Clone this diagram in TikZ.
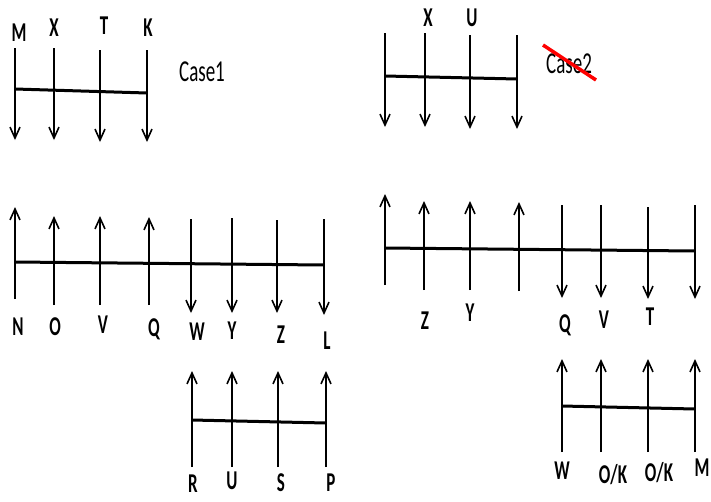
\documentclass[tikz,border=0pt]{standalone}
\usepackage{fontspec}
\setmainfont{Carlito}
\usetikzlibrary{arrows.meta}

\newcommand{\tall}[1]{\scalebox{1}[1.6]{#1}}

\begin{document}
\begin{tikzpicture}[
x=1pt, y=-1pt,
every node/.style={
inner sep=0pt,
font=\fontsize{17}{17}\selectfont\bfseries
},
flow/.style={-{Straight Barb[length=11pt,width=10pt]}, line width=1.6pt},
bar/.style={line width=3pt},
casetext/.style={font=\fontsize{19}{19}\selectfont}
]
\useasboundingbox (0,0) rectangle (711,501);

% ------------------------
% Case 1 (top left)
% ------------------------
\draw[bar] (15,89) -- (147,93);
\draw[flow] (15,48) -- (15,140);
\draw[flow] (54,48) -- (54,140);
\draw[flow] (100,50) -- (100,142);
\draw[flow] (147,50) -- (147,142);

\node (m1) at (19,33) {\tall{M}};
\node (x1) at (54,28) {\tall{X}};
\node (t1) at (104,26) {\tall{T}};
\node (k1) at (148,28) {\tall{K}};
\node[casetext] (case1) at (202,72) {\tall{Case1}};

% ------------------------
% Case 2 (top right)
% ------------------------
\draw[bar] (385,76) -- (517,79);
\draw[flow] (385,33) -- (385,127);
\draw[flow] (425,33) -- (425,127);
\draw[flow] (470,35) -- (470,129);
\draw[flow] (517,35) -- (517,129);

\node (x2) at (428,18) {\tall{X}};
\node (u2) at (472,18) {\tall{U}};
\node[casetext] (case2) at (569,64) {\tall{Case2}};
\draw[red, line width=3.5pt] (543,45) -- (596,80);

% ------------------------
% Middle left
% ------------------------
\draw[bar] (15,262) -- (324,265);
\draw[flow] (15,299) -- (15,207);
\draw[flow] (54,305) -- (54,216);
\draw[flow] (100,305) -- (100,216);
\draw[flow] (149,305) -- (149,217);
\draw[flow] (191,219) -- (191,313);
\draw[flow] (232,218) -- (232,313);
\draw[flow] (277,220) -- (277,313);
\draw[flow] (324,219) -- (324,315);

\node (n3) at (18,327) {\tall{N}};
\node (o3) at (55,327) {\tall{O}};
\node (v3) at (103,325) {\tall{V}};
\node (q3) at (154,329) {\tall{Q}};
\node (w3) at (197,332) {\tall{W}};
\node (y3) at (232,331) {\tall{Y}};
\node (z3) at (281,335) {\tall{Z}};
\node (l3) at (327,341) {\tall{L}};

% ------------------------
% Middle right
% ------------------------
\draw[bar] (385,248) -- (695,251);
\draw[flow] (385,285) -- (385,194);
\draw[flow] (424,290) -- (424,201);
\draw[flow] (470,290) -- (470,201);
\draw[flow] (519,291) -- (519,202);
\draw[flow] (562,205) -- (562,298);
\draw[flow] (601,205) -- (601,298);
\draw[flow] (648,207) -- (648,299);
\draw[flow] (695,205) -- (695,299);

\node (z4) at (425,321) {\tall{Z}};
\node (y4) at (470,313) {\tall{Y}};
\node (q4) at (565,325) {\tall{Q}};
\node (v4) at (604,320) {\tall{V}};
\node (t4) at (650,317) {\tall{T}};

% ------------------------
% Bottom left
% ------------------------
\draw[bar] (192,420) -- (326,423);
\draw[flow] (192,467) -- (192,371);
\draw[flow] (232,467) -- (232,371);
\draw[flow] (278,467) -- (278,371);
\draw[flow] (326,467) -- (326,371);

\node (r5) at (193,484) {\tall{R}};
\node (u5) at (232,481) {\tall{U}};
\node (s5) at (281,483) {\tall{S}};
\node (p5) at (331,483) {\tall{P}};

% ------------------------
% Bottom right
% ------------------------
\draw[bar] (562,406) -- (695,409);
\draw[flow] (562,452) -- (562,359);
\draw[flow] (601,452) -- (601,359);
\draw[flow] (648,452) -- (648,359);
\draw[flow] (695,452) -- (695,359);

\node (w6) at (562,471) {\tall{W}};
\node (ok6a) at (613,475) {\tall{O/K}};
\node (ok6b) at (659,473) {\tall{O/K}};
\node (m6) at (702,468) {\tall{M}};

\end{tikzpicture}
\end{document}
